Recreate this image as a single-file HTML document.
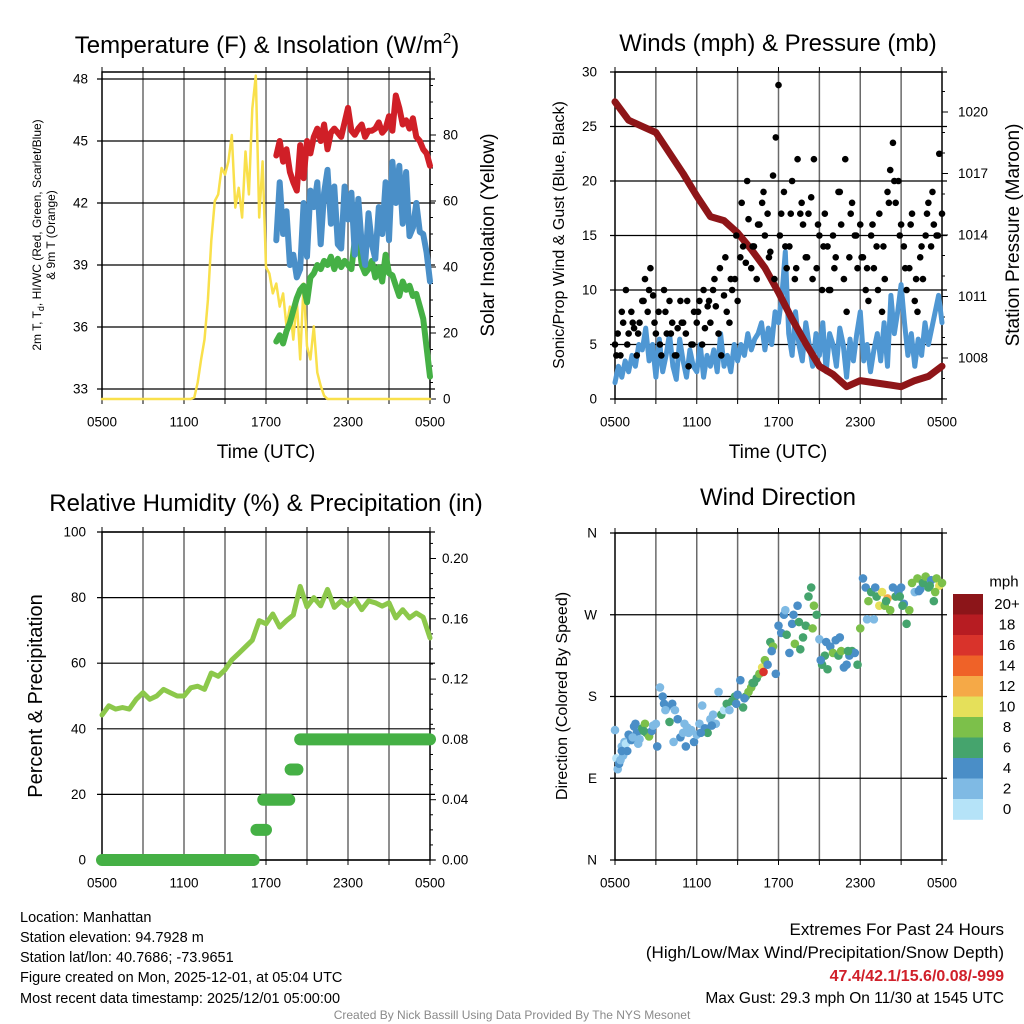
<!DOCTYPE html>
<html><head><meta charset="utf-8"><style>
body{margin:0;background:#fff;}
svg{display:block;font-family:"Liberation Sans",sans-serif;}
</style></head><body>
<svg id="c" width="1024" height="1024" viewBox="0 0 1024 1024" xmlns="http://www.w3.org/2000/svg">
<rect width="1024" height="1024" fill="#fff"/>
<g id="p1"></g>
<g id="p2"></g>
<g id="p3"></g>
<g id="p4"></g>
<g id="txt" font-size="14" fill="#000">
<text x="267" y="53" font-size="24" text-anchor="middle">Temperature (F) &amp; Insolation (W/m<tspan font-size="15" dy="-10">2</tspan><tspan dy="10">)</tspan></text>
<text x="778" y="51" font-size="24" text-anchor="middle">Winds (mph) &amp; Pressure (mb)</text>
<text x="266" y="511" font-size="24" text-anchor="middle">Relative Humidity (%) &amp; Precipitation (in)</text>
<text x="778" y="505" font-size="24" text-anchor="middle">Wind Direction</text>
<text x="266" y="458" font-size="19" text-anchor="middle">Time (UTC)</text>
<text x="778" y="458" font-size="19" text-anchor="middle">Time (UTC)</text>
<text transform="translate(41,235) rotate(-90)" font-size="12" text-anchor="middle">2m T, T<tspan font-size="9" dy="3">d</tspan><tspan dy="-3">, HI/WC (Red, Green, Scarlet/Blue)</tspan></text>
<text transform="translate(55,235) rotate(-90)" font-size="12" text-anchor="middle">&amp; 9m T (Orange)</text>
<text transform="translate(494,235) rotate(-90)" font-size="19" text-anchor="middle">Solar Insolation (Yellow)</text>
<text transform="translate(564,235) rotate(-90)" font-size="16" text-anchor="middle">Sonic/Prop Wind &amp; Gust (Blue, Black)</text>
<text transform="translate(1019,235) rotate(-90)" font-size="19" text-anchor="middle">Station Pressure (Maroon)</text>
<text transform="translate(42,696) rotate(-90)" font-size="20" text-anchor="middle">Percent &amp; Precipitation</text>
<text transform="translate(567,696) rotate(-90)" font-size="16" text-anchor="middle">Direction (Colored By Speed)</text>
<g font-size="14.5">
<text x="20" y="922">Location: Manhattan</text>
<text x="20" y="942">Station elevation: 94.7928 m</text>
<text x="20" y="962">Station lat/lon: 40.7686; -73.9651</text>
<text x="20" y="982">Figure created on Mon, 2025-12-01, at 05:04 UTC</text>
<text x="20" y="1003">Most recent data timestamp: 2025/12/01 05:00:00</text>
</g>
<g text-anchor="end">
<text x="1004" y="935" font-size="17">Extremes For Past 24 Hours</text>
<text x="1004" y="958" font-size="17">(High/Low/Max Wind/Precipitation/Snow Depth)</text>
<text x="1004" y="981" font-size="16" font-weight="bold" fill="#d0202a">47.4/42.1/15.6/0.08/-999</text>
<text x="1004" y="1003" font-size="15.5">Max Gust: 29.3 mph On 11/30 at 1545 UTC</text>
</g>
<text x="512" y="1019" font-size="12" fill="#8a8a8a" text-anchor="middle">Created By Nick Bassill Using Data Provided By The NYS Mesonet</text>
</g>
</svg>
<script>
// ---------- data ----------
const xTickLabels = ["0500","1100","1700","2300","0500"];
const tempTicks = [33,36,39,42,45,48];
const solarTicks = [0,20,40,60,80];
const windTicks = [0,5,10,15,20,25,30];
const pressTicks = [1008,1011,1014,1017,1020];
const rhTicks = [0,20,40,60,80,100];
const precipTicks = ["0.00","0.04","0.08","0.12","0.16","0.20"];
const dirTickLabels = ["N","E","S","W","N"];
const dirTickDeg = [0,90,180,270,360];

const tempStart = 12.75; // hours after 0500
const redT = [44.3,45.0,44.0,44.6,43.5,43.0,42.6,44.8,43.2,45.0,44.4,45.2,45.6,45.0,45.8,44.6,45.4,45.6,45.4,45.2,45.9,46.6,45.5,45.3,45.6,45.8,45.2,45.5,45.5,45.6,45.9,45.4,45.6,46.2,45.5,47.2,46.6,45.8,46.0,45.6,46.1,45.2,45.0,44.6,44.4,43.8];
const blueT = [40.2,43.0,40.5,41.6,39.0,39.5,38.4,38.8,42.0,39.4,42.6,41.8,43.0,40.0,42.5,43.6,41.0,42.8,40.0,39.8,42.8,41.2,42.5,39.5,42.2,40.0,39.0,41.5,40.0,39.3,41.8,40.5,43.0,40.2,44.0,42.0,43.8,41.0,43.5,40.4,40.8,42.0,40.6,40.5,39.6,38.2];
const greenT = [35.3,35.6,35.2,35.8,36.2,36.8,37.4,37.8,38.0,37.2,38.4,38.6,39.0,38.8,39.2,39.0,39.4,38.8,39.3,38.9,39.2,39.0,38.8,40.2,40.5,39.0,38.6,38.8,39.2,38.4,38.9,38.2,39.5,38.6,38.5,38.0,37.5,38.2,37.8,38.0,37.5,37.6,37.0,36.4,35.0,33.6];
const solarStart = 6.5;
const solar = [0,0.5,5,12,18,30,48,60,62,70,68,72,80,58,64,55,75,62,88,98,55,72,40,38,32,35,28,32,22,28,18,30,12,35,16,12,22,8,4,1,0,0,0];

const pressure = [1020.5,1019.6,1019.3,1019.0,1018.0,1017.0,1015.9,1014.9,1014.7,1014.1,1013.3,1012.4,1011.2,1009.9,1008.7,1007.6,1007.2,1006.6,1006.9,1006.8,1006.7,1006.6,1006.9,1007.1,1007.6];
const wind = [1.5,3,2,3.5,2.5,4,3,5,4.5,6.5,3.5,5, 2,5.5,2.5,4,6,3,1.8,5.5,3.5,2,4.5,3, 2.5,5,2,4,3,4.5,2.5,6,3,4,2.5,5, 3.5,5,4,6,4.5,5.5,6,7,4.5,6.5,5,8, 7,9.5,13.5,6,4,8,5,3.5,7,5,3,6, 4,7,2.5,6,5,3,6.5,5,2,5.5,3.5,6, 8,3.5,5,2.5,4.5,6,3.5,7,3,9.5,6,8, 10.5,7,4,6,3,5.5,4,7,5,6.5,8,9.5,7];
const gustA = [5,6,4,7,10,6,8,6.5,4,7, 9,11,8,12,9.5,6,8,4,10,6, 9,7,4,6.5,9,7,6,3,5,8, 7,9,5,6.5,8.5,7,10,8.5,6,4, 9.5,8,7,10,11,9,13,14,12.5,16.5, 12,14,11,16,18,15,17,13.5,20.5,24, 28.8,17,19,12,14,20,11,22,17,16, 13,17,18.5,22,12,15,10,17,14,10, 15,13,19,16,11,8,13,18,15,12, 16,13,10,9,15,12,14,17,8,11, 19,21,23.5,18,20,16,14,10,12,17, 9,8,13,11,15,18,14,16,15,22.5,17];
const gustB = [4,8,5,7,6,9,10,7,5,8, 6,4,7,9,5,8,10,9,11,12, 13,11,15,18,20,14,16,19,13,11, 15,14,17,12,18,13,11,16,14,10, 12,19,22,17,15,13,12,16,10,14, 18,20,15,12,16,11,14,17,19,15];

const rh = [44.2,47,46,46.5,46,49,51,49,50,52,51,50,50,52.5,53,52,57,56,58,61,63,65,67,73,72,75,71,73,74.7,83.4,77.2,80,77.5,82.5,77,79,77.5,79.6,76.3,79,78.4,77.4,78.4,73.8,76.3,73.8,75.3,74,67.7];
const precipStart = [0,11.3,11.8,13.8,14.5];
const precipEnd = [11.1,12.0,13.7,14.3,24];
const precipVal = [0,0.02,0.04,0.06,0.08];

const dirT = [0.0,0.1,0.2,0.3,0.4,0.5,0.6,0.7,0.8,0.9, 1.0,1.2,1.4,1.5,1.6,1.8,2.0,2.2,2.3,2.5, 2.7,2.8,3.0,3.1,3.3,3.5,3.6,3.8,4.0,4.2, 4.4,4.6,4.8,5.0,5.2,5.4,5.6,5.8,6.0,6.2, 6.4,6.6,6.8,7.0,7.2,7.4,7.6,7.8,8.0,8.2, 8.4,8.6,8.8,9.0,9.2,9.4,9.6,9.8,10.0,10.2, 10.4,10.6,10.8,10.9,11.0,11.2,11.4,11.6,11.8,12.0, 12.2,12.4,12.6,12.8,13.0,13.2,13.4,13.6,13.8,14.0, 14.2,14.4,14.6,14.8,15.0,15.2,15.4,15.6,15.8,16.0, 16.2,16.4,16.6,16.8,17.0,17.2,17.4,17.6,17.8,18.0, 18.2,18.4,18.6,18.8,19.0,19.2,19.4,19.6,19.8,20.0, 20.2,20.4,20.6,20.8,21.0,21.2,21.4,21.6,21.8,22.0, 22.2,22.4,22.6,22.8,23.0,23.2,23.4,23.6,23.8,24.0, 0.5,1.3,2.1,3.7,5.1,6.3,7.1,8.9,11.5,12.5, 13.1,14.5,15.1,16.5,17.1,18.5,19.9,21.1,22.3,23.5, 1.7,4.3,5.3,9.5,10.1,13.5,15.5,19.1,20.9,23.1];
const dirDeg = [143,112,100,106,110,125,115,130,128,120, 138,132,147,150,140,133,145,150,140,136, 142,148,150,125,190,180,172,168,152,172, 165,155,135,140,125,140,143,130,138,150, 170,145,140,155,160,150,185,160,165,172, 165,175,180,182,198,168,180,185,190,195, 200,205,212,207,220,215,240,235,205,258, 250,270,248,228,260,238,280,232,245,258, 290,300,280,270,243,215,225,210,235,228, 242,225,230,212,215,225,230,228,215,255, 310,300,285,295,265,290,280,295,280,288, 275,300,290,295,300,282,260,275,305,295, 310,298,305,312,300,308,285,310,302,305, 120,135,142,165,150,140,148,172,230,275, 270,255,220,245,230,265,285,280,296,295, 128,130,146,178,195,262,240,300,290,302];
const dirSpd = [2,1,2,4,3,2,3,3,1,4, 4,4,4,5,4,3,6,8,7,8, 4,2,3,4,2,4,4,5,6,4, 2,4,4,2,4,2,3,4,2,2, 2,4,6,3,2,2,2,6,1,6, 2,6,6,4,4,6,6,8,8,6, 6,8,10,16,8,4,6,8,4,4, 4,4,6,4,4,8,4,6,6,7, 6,6,8,6,2,6,6,6,4,8, 4,6,8,4,4,4,6,4,6,8, 4,4,8,6,2,6,10,10,8,12, 8,4,6,4,4,4,6,8,8,3, 8,4,6,8,6,4,6,8,10,8, 4,2,6,2,2,4,4,4,4,2, 4,8,4,4,6,2,6,6,4,8, 3,2,2,4,6,6,4,4,6,6];
const speedLabels = ["20+","18","16","14","12","10","8","6","4","2","0"];
const speedColors = ["#8c1519","#b71c22","#d9332b","#ef6228","#f5a947","#e5e05a","#7cc04a","#45a46d","#4a8ec7","#7fbae4","#b5e3f8"];

// ---------- helpers ----------
const NS="http://www.w3.org/2000/svg";
function el(tag, parent, attrs){const e=document.createElementNS(NS,tag);for(const k in attrs)e.setAttribute(k,attrs[k]);parent.appendChild(e);return e;}
function txt(parent,x,y,s,anchor,size){const t=el("text",parent,{x:x,y:y,"text-anchor":anchor,"font-size":size||13,"dominant-baseline":"central"});t.textContent=s;return t;}

function frame(g, L, R, T, B, hLines, name){
  for(let i=1;i<8;i++){const x=L+(R-L)*i/8;
    const v=el("line",g,{x1:x,x2:x,y1:T,y2:B,stroke:"#6a6a6a","stroke-width":1.5});
    
    }
  hLines.forEach(y=>{const h=el("line",g,{x1:L-5,x2:R+5,y1:y,y2:y,stroke:"#000","stroke-width":1.2});
    
    });
  const r=el("rect",g,{x:L,y:T,width:R-L,height:B-T,fill:"none",stroke:"#000","stroke-width":1.5});
  
  
  for(let i=0;i<=8;i++){const x=L+(R-L)*i/8;el("line",g,{x1:x,x2:x,y1:B,y2:B+5,stroke:"#000"});el("line",g,{x1:x,x2:x,y1:T-5,y2:T,stroke:"#000"});}
  xTickLabels.forEach((s,i)=>{const t=txt(g,L+(R-L)*i/4,B+23,s,"middle",13.5);
    
    });
}
function poly(g, pts, color, w, name){
  const p=el("polyline",g,{points:pts.map(p=>p[0].toFixed(1)+","+p[1].toFixed(1)).join(" "),fill:"none",stroke:color,"stroke-width":w,"stroke-linejoin":"round","stroke-linecap":"round"});
  
  
  return p;
}

// ---------- panel 1 ----------
(function(){
  const g=document.getElementById("p1");
  const L=102,R=430,T=72,B=399;
  const x=t=>L+t*(R-L)/24;
  const yT=v=>389-(v-33)*62/3;
  const yS=v=>399-v*3.3;
  frame(g,L,R,T,B,tempTicks.map(yT),"temperature");
  tempTicks.forEach(v=>{const t=txt(g,L-14,yT(v),String(v),"end",13.5);
    
    });
  for(let v=0;v<=95;v+=5){el("line",g,{x1:R,x2:R+(v%20==0?6:3),y1:yS(v),y2:yS(v),stroke:"#000"});}
  solarTicks.forEach(v=>{const t=txt(g,R+13,yS(v),String(v),"start",13.5);
    
    });
  const sp=[[x(0),yS(0)]];solar.forEach((v,i)=>sp.push([x(solarStart+i*0.25),yS(v)]));sp.push([x(24),yS(0)]);
  poly(g,sp,"#f9e04b",2.5,"solar-insolation-line");
  poly(g,greenT.map((v,i)=>[x(tempStart+i*0.25),yT(v)]),"#45b045",6,"dewpoint-line");
  poly(g,redT.map((v,i)=>[x(tempStart+i*0.25),yT(v)]),"#d01f27",6,"temperature-line");
  poly(g,blueT.map((v,i)=>[x(tempStart+i*0.25),yT(v)]),"#4a8fc8",6,"wind-chill-line");
})();

// ---------- panel 2 ----------
(function(){
  const g=document.getElementById("p2");
  const L=615,R=942,T=72,B=399;
  const x=t=>L+t*(R-L)/24;
  const yW=v=>399-v*10.9;
  const yP=p=>112+(1020-p)*20.5;
  frame(g,L,R,T,B,windTicks.map(yW),"winds");
  windTicks.forEach(v=>{const t=txt(g,L-18,yW(v),String(v),"end",13.5);
    
    });
  for(let p=1007;p<=1021;p++){el("line",g,{x1:R,x2:R+(p%3==0?6:3),y1:yP(p),y2:yP(p),stroke:"#000"});}
  pressTicks.forEach(v=>{const t=txt(g,R+16,yP(v),String(v),"start",13.5);
    
    });
  poly(g,wind.map((v,i)=>[x(i*0.25),yW(v)]),"#4f97d3",5,"wind-speed-line");
  poly(g,pressure.map((v,i)=>[x(i),yP(v)]),"#8e1518",7,"pressure-line");
  gustA.forEach((v,i)=>{const c=el("circle",g,{cx:x(i*0.2),cy:yW(v),r:3.3,fill:"#000"});
    
    });
  gustB.forEach((v,i)=>{const c=el("circle",g,{cx:x(0.1+i*0.4),cy:yW(v),r:3.3,fill:"#000"});
    
    });
})();

// ---------- panel 3 ----------
(function(){
  const g=document.getElementById("p3");
  const L=102,R=430,T=532,B=860;
  const x=t=>L+t*(R-L)/24;
  const yR=v=>860-v*3.28;
  const yPr=v=>860-v*1507.5;
  frame(g,L,R,T,B,rhTicks.map(yR),"humidity");
  rhTicks.forEach(v=>{const t=txt(g,L-16,yR(v),String(v),"end",13.5);
    
    });
  for(let v=0;v<=0.22;v+=0.01){el("line",g,{x1:R,x2:R+(Math.round(v*100)%4==0?6:3),y1:yPr(v),y2:yPr(v),stroke:"#000"});}
  precipTicks.forEach(s=>{const t=txt(g,R+12,yPr(parseFloat(s)),s,"start",13.5);
    
    });
  poly(g,rh.map((v,i)=>[x(i*0.5),yR(v)]),"#8cc84b",5,"relative-humidity-line");
  precipVal.forEach((v,i)=>{const l=el("line",g,{x1:x(precipStart[i]),x2:x(precipEnd[i]),y1:yPr(v),y2:yPr(v),stroke:"#45b045","stroke-width":12,"stroke-linecap":"round"});
    
    });
})();

// ---------- panel 4 ----------
(function(){
  const g=document.getElementById("p4");
  const L=615,R=942,T=533,B=860;
  const x=t=>L+t*(R-L)/24;
  const yD=d=>860-d*(B-T)/360;
  frame(g,L,R,T,B,dirTickDeg.map(yD),"direction");
  dirTickDeg.forEach((d,i)=>{const t=txt(g,L-18,yD(d),dirTickLabels[i],"end",13.5);
    
    });
  const bin=s=>Math.min(10,Math.floor(s/2));
  dirT.forEach((t,i)=>{const c=el("circle",g,{cx:x(t),cy:yD(dirDeg[i]),r:4.3,fill:speedColors[10-bin(dirSpd[i])]});
    
    });
  const lg=el("g",g,{});
  
  
  txt(lg,1004,582,"mph","middle",15);
  speedLabels.forEach((s,i)=>{const y0=594+i*20.5;
    const r=el("rect",lg,{x:953,y:y0,width:30,height:20.8,fill:speedColors[i]});
    
    
    const t=txt(lg,1007,y0+10.5,s,"middle",15);
    
    });
})();
</script>
</body></html>
